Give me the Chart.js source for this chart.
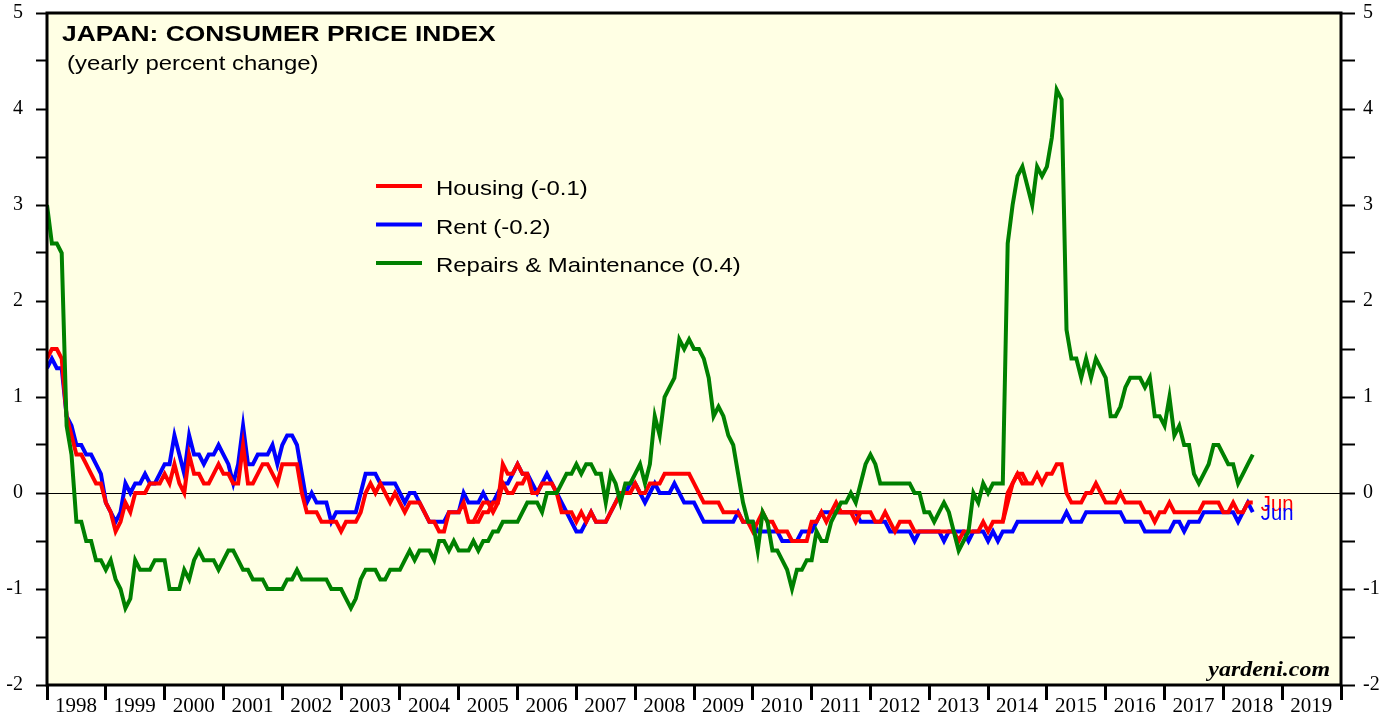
<!DOCTYPE html>
<html>
<head>
<meta charset="utf-8">
<title>Japan: Consumer Price Index</title>
<script src="https://cdn.jsdelivr.net/npm/chart.js@4.4.1/dist/chart.umd.min.js"></script>
<style>
  html, body { margin: 0; padding: 0; background: #fff; }
  #wrap { width: 1395px; height: 717px; }
</style>
</head>
<body>
<div id="wrap"><canvas id="cpiChart" width="1395" height="717"></canvas></div>
<script>
// Monthly series, first value is Dec 1997, last is Jun 2018 (yearly % change)
const SERIES_START = [1997, 12];

const housing = [
  1.4,
  1.5, 1.5, 1.4, 0.8, 0.6, 0.4, 0.4, 0.3, 0.2, 0.1, 0.1, -0.1,       // 1998
  -0.2, -0.4, -0.3, -0.1, -0.2, 0.0, 0.0, 0.0, 0.1, 0.1, 0.1, 0.2,   // 1999
  0.1, 0.3, 0.1, 0.0, 0.4, 0.2, 0.2, 0.1, 0.1, 0.2, 0.3, 0.2,        // 2000
  0.2, 0.1, 0.1, 0.5, 0.1, 0.1, 0.2, 0.3, 0.3, 0.2, 0.1, 0.3,        // 2001
  0.3, 0.3, 0.3, 0.0, -0.2, -0.2, -0.2, -0.3, -0.3, -0.3, -0.3, -0.4, // 2002
  -0.3, -0.3, -0.3, -0.2, 0.0, 0.1, 0.0, 0.1, 0.0, -0.1, 0.0, -0.1,  // 2003
  -0.2, -0.1, -0.1, -0.1, -0.2, -0.3, -0.3, -0.4, -0.4, -0.2, -0.2, -0.2, // 2004
  -0.1, -0.3, -0.3, -0.2, -0.1, -0.1, -0.2, -0.1, 0.3, 0.2, 0.2, 0.3, // 2005
  0.2, 0.2, 0.0, 0.0, 0.1, 0.1, 0.1, 0.0, -0.2, -0.2, -0.2, -0.3,    // 2006
  -0.2, -0.3, -0.2, -0.3, -0.3, -0.3, -0.2, -0.1, 0.0, 0.0, 0.0, 0.1, // 2007
  0.0, 0.0, 0.1, 0.1, 0.1, 0.2, 0.2, 0.2, 0.2, 0.2, 0.2, 0.1,        // 2008
  0.0, -0.1, -0.1, -0.1, -0.1, -0.2, -0.2, -0.2, -0.2, -0.3, -0.3, -0.4, // 2009
  -0.3, -0.2, -0.3, -0.3, -0.4, -0.4, -0.4, -0.5, -0.5, -0.5, -0.5, -0.3, // 2010
  -0.3, -0.2, -0.3, -0.2, -0.2, -0.2, -0.2, -0.2, -0.2, -0.2, -0.2, -0.2, // 2011
  -0.3, -0.3, -0.2, -0.3, -0.4, -0.3, -0.3, -0.3, -0.4, -0.4, -0.4, -0.4, // 2012
  -0.4, -0.4, -0.4, -0.4, -0.4, -0.5, -0.4, -0.4, -0.4, -0.4, -0.3, -0.4, // 2013
  -0.3, -0.3, -0.3, 0.0, 0.1, 0.2, 0.1, 0.1, 0.1, 0.2, 0.1, 0.2,     // 2014
  0.2, 0.3, 0.3, 0.0, -0.1, -0.1, -0.1, 0.0, 0.0, 0.1, 0.0, -0.1,    // 2015
  -0.1, -0.1, 0.0, -0.1, -0.1, -0.1, -0.1, -0.2, -0.2, -0.3, -0.2, -0.2, // 2016
  -0.1, -0.2, -0.2, -0.2, -0.2, -0.2, -0.2, -0.1, -0.1, -0.1, -0.1, -0.2, // 2017
  -0.2, -0.1, -0.2, -0.2, -0.1, -0.1                                  // 2018
];

const rent = [
  1.3,
  1.4, 1.3, 1.3, 0.8, 0.7, 0.5, 0.5, 0.4, 0.4, 0.3, 0.2, -0.1,       // 1998
  -0.2, -0.3, -0.2, 0.1, 0.0, 0.1, 0.1, 0.2, 0.1, 0.1, 0.2, 0.3,     // 1999
  0.3, 0.6, 0.4, 0.2, 0.6, 0.4, 0.4, 0.3, 0.4, 0.4, 0.5, 0.4,        // 2000
  0.3, 0.1, 0.3, 0.7, 0.3, 0.3, 0.4, 0.4, 0.4, 0.5, 0.3, 0.5,        // 2001
  0.6, 0.6, 0.5, 0.2, -0.1, 0.0, -0.1, -0.1, -0.1, -0.3, -0.2, -0.2, // 2002
  -0.2, -0.2, -0.2, 0.0, 0.2, 0.2, 0.2, 0.1, 0.1, 0.1, 0.1, 0.0,     // 2003
  -0.1, 0.0, 0.0, -0.1, -0.2, -0.3, -0.3, -0.3, -0.3, -0.2, -0.2, -0.2, // 2004
  0.0, -0.1, -0.1, -0.1, 0.0, -0.1, -0.1, 0.0, 0.1, 0.1, 0.2, 0.3,   // 2005
  0.2, 0.2, 0.1, 0.0, 0.1, 0.2, 0.1, 0.0, -0.1, -0.2, -0.3, -0.4,    // 2006
  -0.4, -0.3, -0.2, -0.3, -0.3, -0.3, -0.2, -0.1, 0.0, 0.0, 0.1, 0.1, // 2007
  0.0, -0.1, 0.0, 0.1, 0.0, 0.0, 0.0, 0.1, 0.0, -0.1, -0.1, -0.1,    // 2008
  -0.2, -0.3, -0.3, -0.3, -0.3, -0.3, -0.3, -0.3, -0.2, -0.3, -0.3, -0.3, // 2009
  -0.4, -0.4, -0.4, -0.4, -0.4, -0.5, -0.5, -0.5, -0.5, -0.4, -0.4, -0.4, // 2010
  -0.3, -0.2, -0.2, -0.2, -0.2, -0.2, -0.2, -0.2, -0.2, -0.3, -0.3, -0.3, // 2011
  -0.3, -0.3, -0.3, -0.4, -0.4, -0.4, -0.4, -0.4, -0.5, -0.4, -0.4, -0.4, // 2012
  -0.4, -0.4, -0.5, -0.4, -0.4, -0.4, -0.4, -0.5, -0.4, -0.4, -0.4, -0.5, // 2013
  -0.4, -0.5, -0.4, -0.4, -0.4, -0.3, -0.3, -0.3, -0.3, -0.3, -0.3, -0.3, // 2014
  -0.3, -0.3, -0.3, -0.2, -0.3, -0.3, -0.3, -0.2, -0.2, -0.2, -0.2, -0.2, // 2015
  -0.2, -0.2, -0.2, -0.3, -0.3, -0.3, -0.3, -0.4, -0.4, -0.4, -0.4, -0.4, // 2016
  -0.4, -0.3, -0.3, -0.4, -0.3, -0.3, -0.3, -0.2, -0.2, -0.2, -0.2, -0.2, // 2017
  -0.2, -0.2, -0.3, -0.2, -0.1, -0.2                                  // 2018
];

const repairs = [
  3.0,
  2.6, 2.6, 2.5, 0.7, 0.4, -0.3, -0.3, -0.5, -0.5, -0.7, -0.7, -0.8, // 1998
  -0.7, -0.9, -1.0, -1.2, -1.1, -0.7, -0.8, -0.8, -0.8, -0.7, -0.7, -0.7, // 1999
  -1.0, -1.0, -1.0, -0.8, -0.9, -0.7, -0.6, -0.7, -0.7, -0.7, -0.8, -0.7, // 2000
  -0.6, -0.6, -0.7, -0.8, -0.8, -0.9, -0.9, -0.9, -1.0, -1.0, -1.0, -1.0, // 2001
  -0.9, -0.9, -0.8, -0.9, -0.9, -0.9, -0.9, -0.9, -0.9, -1.0, -1.0, -1.0, // 2002
  -1.1, -1.2, -1.1, -0.9, -0.8, -0.8, -0.8, -0.9, -0.9, -0.8, -0.8, -0.8, // 2003
  -0.7, -0.6, -0.7, -0.6, -0.6, -0.6, -0.7, -0.5, -0.5, -0.6, -0.5, -0.6, // 2004
  -0.6, -0.6, -0.5, -0.6, -0.5, -0.5, -0.4, -0.4, -0.3, -0.3, -0.3, -0.3, // 2005
  -0.2, -0.1, -0.1, -0.1, -0.2, 0.0, 0.0, 0.0, 0.1, 0.2, 0.2, 0.3,   // 2006
  0.2, 0.3, 0.3, 0.2, 0.2, -0.1, 0.2, 0.1, -0.1, 0.1, 0.1, 0.2,      // 2007
  0.3, 0.1, 0.3, 0.8, 0.6, 1.0, 1.1, 1.2, 1.6, 1.5, 1.6, 1.5,        // 2008
  1.5, 1.4, 1.2, 0.8, 0.9, 0.8, 0.6, 0.5, 0.2, -0.1, -0.3, -0.3,     // 2009
  -0.6, -0.2, -0.3, -0.6, -0.6, -0.7, -0.8, -1.0, -0.8, -0.8, -0.7, -0.7, // 2010
  -0.4, -0.5, -0.5, -0.3, -0.2, -0.1, -0.1, 0.0, -0.1, 0.1, 0.3, 0.4, // 2011
  0.3, 0.1, 0.1, 0.1, 0.1, 0.1, 0.1, 0.1, 0.0, 0.0, -0.2, -0.2,      // 2012
  -0.3, -0.2, -0.1, -0.2, -0.4, -0.6, -0.5, -0.4, 0.0, -0.1, 0.1, 0.0, // 2013
  0.1, 0.1, 0.1, 2.6, 3.0, 3.3, 3.4, 3.2, 3.0, 3.4, 3.3, 3.4,        // 2014
  3.7, 4.2, 4.1, 1.7, 1.4, 1.4, 1.2, 1.4, 1.2, 1.4, 1.3, 1.2,        // 2015
  0.8, 0.8, 0.9, 1.1, 1.2, 1.2, 1.2, 1.1, 1.2, 0.8, 0.8, 0.7,        // 2016
  1.0, 0.6, 0.7, 0.5, 0.5, 0.2, 0.1, 0.2, 0.3, 0.5, 0.5, 0.4,        // 2017
  0.3, 0.3, 0.1, 0.2, 0.3, 0.4                                        // 2018
];

// Second housing trace, only where it parts from the main one
const housingAlt2005 = [-0.3, -0.3, -0.3, -0.2, -0.2, -0.1, -0.1, 0.1, 0.0, 0.0, 0.1, 0.1, 0.2]; // from Feb 2005
const housingAlt2011 = [-0.2, -0.1, -0.2, -0.2, -0.2, -0.3, -0.2];                                // from Apr 2011
const housingAlt2014 = [-0.3, -0.1, 0.1, 0.2, 0.2, 0.1];                                          // from Mar 2014

const SERIES_LABELS = ['Housing (-0.1)', 'Rent (-0.2)', 'Repairs & Maintenance (0.4)'];
const YEAR_LABELS = ['1998', '1999', '2000', '2001', '2002', '2003', '2004', '2005', '2006', '2007', '2008',
                     '2009', '2010', '2011', '2012', '2013', '2014', '2015', '2016', '2017', '2018', '2019'];
const LAST_MONTH_TAG = 'Jun';

const RED = '#ff0000';
const BLUE = '#0000ff';
const GREEN = '#008000';
const PLOT_BG = '#ffffe4';
const SANS = '"Liberation Sans", Arial, Helvetica, sans-serif';
const SERIF = '"Liberation Serif", "Times New Roman", serif';

// months are plotted at month end, so Dec 1997 sits on the 1998 tick
function monthToX(year, month) {
    return year + month / 12;
}

function toPoints(values, year, month) {
    return values.map((v, i) => ({ x: monthToX(year, month + i), y: v }));
}

// join separate stretches into one dataset, with gaps between them
function joinStretches(parts) {
    const out = [];
    parts.forEach(([values, year, month], k) => {
        if (k > 0) out.push({ x: monthToX(year, month) - 1 / 24, y: null });
        out.push(...toPoints(values, year, month));
    });
    return out;
}

// the lettering on this chart is an expanded sans, so stretch horizontally
function wideText(ctx, text, x, y, stretch) {
    ctx.save();
    ctx.translate(x, y);
    ctx.scale(stretch, 1);
    ctx.fillText(text, 0, 0);
    ctx.restore();
}

const chartDecor = {
    id: 'chartDecor',
    beforeDraw(chart) {
        const { ctx, chartArea: a } = chart;
        ctx.save();
        ctx.fillStyle = '#ffffff';
        ctx.fillRect(0, 0, chart.width, chart.height);
        ctx.fillStyle = PLOT_BG;
        ctx.fillRect(a.left, a.top, a.right - a.left, a.bottom - a.top);
        ctx.restore();
    },
    beforeDatasetsDraw(chart) {
        const { ctx, chartArea: a, scales } = chart;
        const y0 = Math.round(scales.y.getPixelForValue(0)) + 0.5;
        ctx.save();
        ctx.strokeStyle = '#000';
        ctx.lineWidth = 1.2;
        ctx.beginPath();
        ctx.moveTo(a.left, y0);
        ctx.lineTo(a.right, y0);
        ctx.stroke();
        ctx.restore();
    },
    afterDraw(chart) {
        const { ctx, chartArea: a } = chart;
        ctx.save();

        // frame
        ctx.strokeStyle = '#000';
        ctx.lineWidth = 3;
        ctx.strokeRect(a.left, a.top, a.right - a.left, a.bottom - a.top);

        // title block
        ctx.fillStyle = '#000';
        ctx.textAlign = 'left';
        ctx.textBaseline = 'alphabetic';
        ctx.font = 'bold 22px ' + SANS;
        wideText(ctx, 'JAPAN: CONSUMER PRICE INDEX', 62, 41, 1.2);
        ctx.font = '21px ' + SANS;
        wideText(ctx, '(yearly percent change)', 67, 70, 1.14);

        // legend
        const colors = [RED, BLUE, GREEN];
        SERIES_LABELS.forEach((label, k) => {
            const ly = 186 + k * 38.5;
            ctx.strokeStyle = colors[k];
            ctx.lineWidth = 4;
            ctx.beginPath();
            ctx.moveTo(376, ly);
            ctx.lineTo(422, ly);
            ctx.stroke();
            ctx.fillStyle = '#000';
            ctx.font = '21px ' + SANS;
            wideText(ctx, label, 436, ly + 9, 1.14);
        });

        // month tags at the end of housing and rent
        ctx.font = '22px ' + SANS;
        [[0, RED], [1, BLUE]].forEach(([idx, color]) => {
            const pts = chart.getDatasetMeta(idx).data;
            const last = pts[pts.length - 1];
            ctx.fillStyle = color;
            wideText(ctx, LAST_MONTH_TAG, last.x + 8, last.y + 8, 0.92);
        });

        // source
        ctx.fillStyle = '#000';
        ctx.textAlign = 'right';
        ctx.font = 'italic bold 21px ' + SERIF;
        wideText(ctx, 'yardeni.com', a.right - 11, a.bottom - 9, 1.14);

        ctx.restore();
    }
};

const lineStyle = {
    borderWidth: 4,
    pointRadius: 0,
    pointHoverRadius: 0,
    tension: 0,
    fill: false,
    spanGaps: false
};

const yTicks = (padding) => ({
    stepSize: 0.5,
    padding: padding,
    color: '#000',
    font: { family: SERIF, size: 20 },
    callback: (v) => Number.isInteger(v) ? String(v) : ''
});

const yGrid = (len) => ({
    drawOnChartArea: false,
    drawTicks: true,
    tickLength: len,
    tickWidth: 2,
    tickColor: '#000'
});

// fixed axis sizes; the end labels may hang outside the plot
const fixWidth = (w) => (s) => { s.width = w; s.paddingTop = 0; s.paddingBottom = 0; };

new Chart(document.getElementById('cpiChart'), {
    type: 'line',
    data: {
        datasets: [
            { label: SERIES_LABELS[0], data: toPoints(housing, ...SERIES_START), borderColor: RED, order: 1, ...lineStyle },
            { label: SERIES_LABELS[1], data: toPoints(rent, ...SERIES_START), borderColor: BLUE, order: 3, ...lineStyle },
            { label: SERIES_LABELS[2], data: toPoints(repairs, ...SERIES_START), borderColor: GREEN, order: 0, ...lineStyle },
            {
                label: 'Housing (alt)',
                data: joinStretches([[housingAlt2005, 2005, 2], [housingAlt2011, 2011, 4], [housingAlt2014, 2014, 3]]),
                borderColor: RED,
                order: 2,
                ...lineStyle
            }
        ]
    },
    options: {
        responsive: false,
        animation: false,
        devicePixelRatio: 1,
        layout: { padding: { top: 13, left: 0, right: 0, bottom: 0 } },
        plugins: {
            legend: { display: false },
            tooltip: { enabled: false }
        },
        scales: {
            x: {
                type: 'linear',
                position: 'bottom',
                min: 1998,
                max: 2020,
                border: { display: false },
                grid: { drawOnChartArea: false, drawTicks: true, tickLength: 15, tickWidth: 3, tickColor: '#000' },
                ticks: {
                    stepSize: 1,
                    autoSkip: false,
                    maxRotation: 0,
                    labelOffset: 29,
                    padding: -4,
                    color: '#000',
                    font: { family: SERIF, size: 21, lineHeight: 1 },
                    callback: (v) => YEAR_LABELS[v - 1998] || ''
                },
                afterFit: (s) => { s.height = 32; s.paddingLeft = 0; s.paddingRight = 0; }
            },
            y: {
                position: 'left',
                min: -2,
                max: 5,
                border: { display: false },
                grid: yGrid(11),
                ticks: yTicks(13),
                afterFit: fixWidth(47)
            },
            y2: {
                position: 'right',
                min: -2,
                max: 5,
                border: { display: false },
                grid: yGrid(14),
                ticks: yTicks(8),
                afterFit: fixWidth(54)
            }
        }
    },
    plugins: [chartDecor]
});
</script>
</body>
</html>
